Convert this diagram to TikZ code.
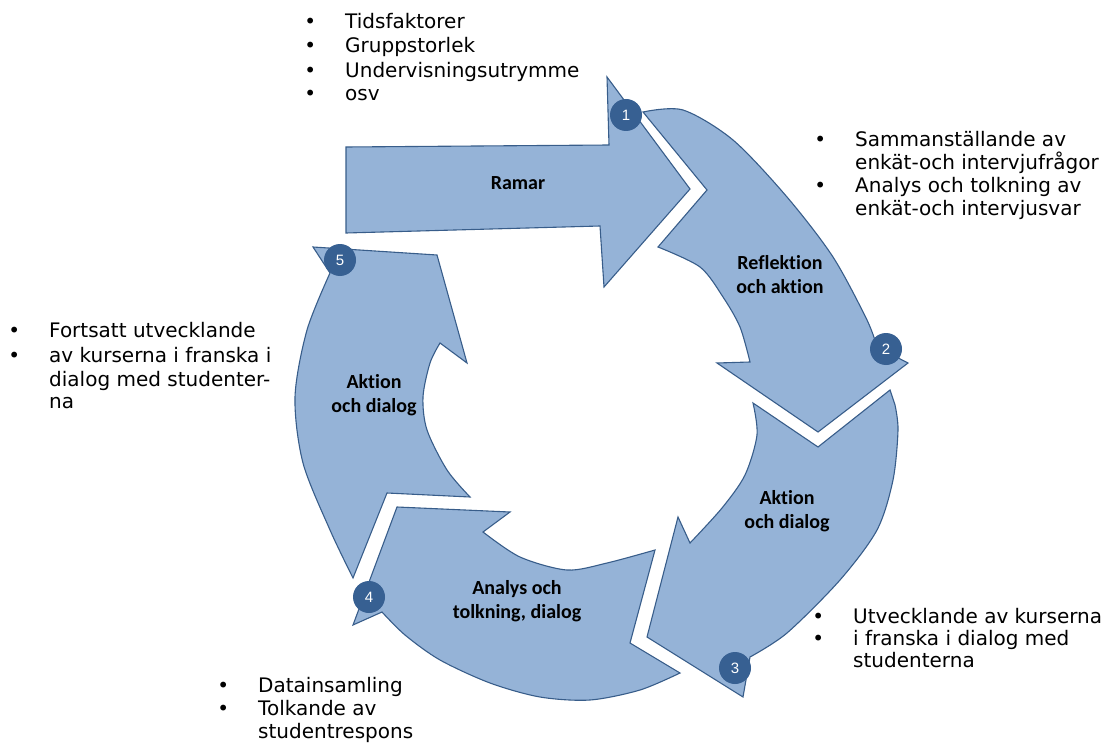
\documentclass[tikz,border=0pt]{standalone}
\usepackage{fontspec}
\newfontfamily\dv{DejaVu Sans}
\newfontfamily\carl[Ligatures=NoCommon]{Carlito}
\newfontfamily\lib{Liberation Sans}
\definecolor{arrfill}{RGB}{149,179,215}
\definecolor{arrline}{RGB}{56,93,138}
\definecolor{numfill}{RGB}{55,96,146}
\newcommand\bul{\llap{•\hspace{29pt}}}
\tikzset{
  arr/.style={fill=arrfill, draw=arrline, line width=1.1pt, line join=miter},
  num/.style={circle, fill=numfill, text=white, minimum size=32pt, inner sep=0pt, font=\lib\fontsize{15}{15}\selectfont},
  lab/.style={font=\carl\bfseries\fontsize{20}{24}\selectfont, align=center, inner sep=0pt},
  li/.style={anchor=base west, inner sep=0pt, font=\dv\fontsize{20}{24}\selectfont},
}
\begin{document}
\begin{tikzpicture}[x=1pt,y=-1pt]
\useasboundingbox (0,0) rectangle (1108,746);

% arrow 1: Ramar
\path[arr] (346,147) -- (609,145) -- (607,77) -- (690,189) -- (604,287) -- (600,226) -- (346,233) -- cycle;

% arrow 2: Reflektion och aktion
\path[arr] plot[smooth] coordinates {(643,112) (683,110) (733,140) (787,197) (833,257) (867,320) (877,347)}
  -- (908,363) -- (818,432) -- (717,363)
  -- plot[smooth] coordinates {(750,362) (740,327) (723,297) (700,267) (658,247)}
  -- (707,190) -- cycle;

% arrow 3: Aktion och dialog (right)
\path[arr] (890,390) -- (818,447)
  -- plot[smooth] coordinates {(753,403) (757,435) (745,475) (722,508) (690,543)}
  -- (678,517) -- (647,637) -- (743,697)
  -- plot[smooth] coordinates {(750,657) (787,633) (840,580) (877,530) (893,480) (898,430) (895,405)}
  -- cycle;

% arrow 4: Analys och tolkning, dialog
\path[arr] (397,507) -- (510,512)
  -- plot[smooth] coordinates {(483,532) (520,557) (567,570) (607,563) (655,550)}
  -- (630,643)
  -- plot[smooth] coordinates {(680,673) (640,690) (590,700) (540,697) (490,683) (440,660) (405,635) (382,612)}
  -- (353,625) -- cycle;

% arrow 5: Aktion och dialog (left)
\path[arr] (437,255) -- (467,363)
  -- plot[smooth] coordinates {(440,343) (430,363) (423,397) (427,430) (447,470) (470,497)}
  -- (387,493)
  -- plot[smooth] coordinates {(353,578) (330,530) (303,463) (295,397) (307,330) (330,273)}
  -- (313,247) -- cycle;

% numbered circles
\node[num] (n1) at (626,115) {1};
\node[num] (n2) at (886,349) {2};
\node[num] (n3) at (735,668) {3};
\node[num] (n4) at (369,597) {4};
\node[num] (n5) at (340,260) {5};

% labels in arrows
\node[lab] (lr) at (518,183) {Ramar};
\node[lab] (lre) at (780,275) {Reflektion\\och aktion};
\node[lab] (la3) at (787,511) {Aktion\\och dialog};
\node[lab] (la4) at (517,601) {Analys och\\tolkning, dialog};
\node[lab] (la5) at (374,395) {Aktion\\och dialog};

% top list
\node[li] (t1) at (345,29) {\bul Tidsfaktorer};
\node[li] (t2) at (345,53) {\bul Gruppstorlek};
\node[li] (t3) at (345,78) {\bul Undervisningsutrymme};
\node[li] (t4) at (345,101) {\bul osv};

% right list
\node[li] (r1) at (855,147) {\bul Sammanställande av};
\node[li] (r2) at (855,170) {enkät-och intervjufrågor};
\node[li] (r3) at (855,193) {\bul Analys och tolkning av};
\node[li] (r4) at (855,215) {enkät-och intervjusvar};

% left list
\node[li] (l1) at (49,337) {\bul Fortsatt utvecklande};
\node[li] (l2) at (49,362) {\bul av kurserna i franska i};
\node[li] (l3) at (49,386) {dialog med studenter-};
\node[li] (l4) at (49,408) {na};

% bottom list
\node[li] (b1) at (258,692) {\bul Datainsamling};
\node[li] (b2) at (258,715) {\bul Tolkande av};
\node[li] (b3) at (258,738) {studentrespons};

% bottom right list
\node[li] (br1) at (853,623) {\bul Utvecklande av kurserna};
\node[li] (br2) at (853,645) {\bul i franska i dialog med};
\node[li] (br3) at (853,667) {studenterna};
\end{tikzpicture}
\end{document}
